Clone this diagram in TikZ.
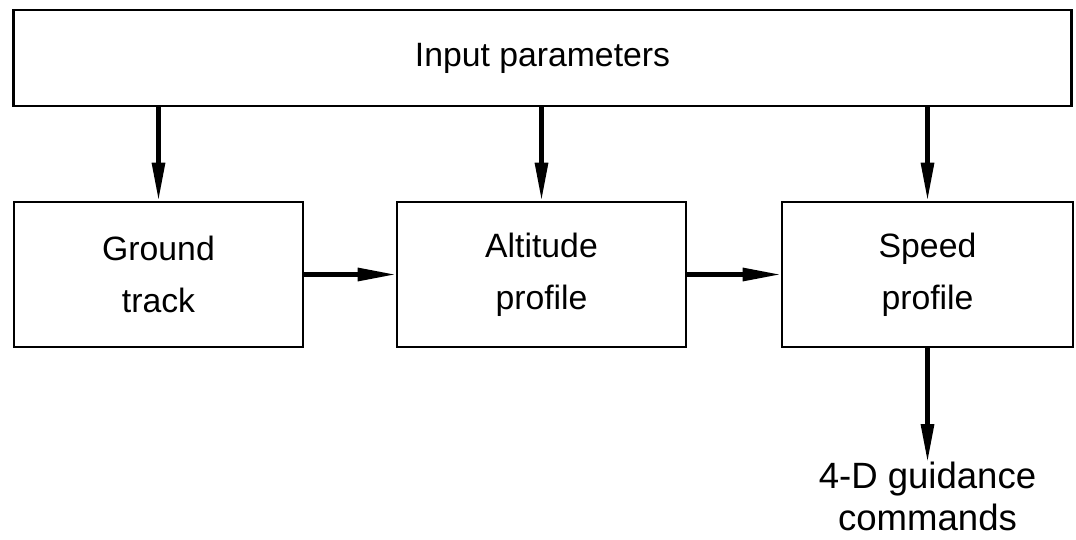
\documentclass[tikz,border=0pt]{standalone}
\usepackage{fontspec}
\setmainfont{Liberation Sans}
\usetikzlibrary{positioning,arrows.meta}

\begin{document}
\begin{tikzpicture}[x=0.025cm,y=-0.025cm,>={Triangle[length=27pt,width=9pt]},
  block/.style={draw,line width=2pt,inner sep=0pt,align=center,
    minimum width=7.225cm,minimum height=3.625cm,font=\fontsize{24}{37}\selectfont},
  label/.style={align=center,inner sep=0pt,font=\fontsize{26}{30}\selectfont}]

    \useasboundingbox (0,0) rectangle (1076,539);

    % The blocks
	\node [block,minimum width=26.425cm,minimum height=2.4cm] at (542.5,58) (inp) {Input parameters};
	\node [block] at (158.5,274.5) (G) {Ground\\track};
	\node [block] at (541.5,274.5) (A) {Altitude\\profile};
	\node [block,minimum width=7.275cm] at (927.5,274.5) (S) {Speed\\profile};

	\node [label,anchor=north] at (927.5,462) (out) {4-D guidance\\commands};

	% Block edges
	\path[->,line width=3pt]
	(inp.south -| G) edge (G)
	(inp.south -| A) edge (A)
	(inp.south -| S) edge (S);

	\path[->,line width=3pt]
	(G) edge (A)
	(A) edge (S)
	(S) edge (out.north);

\end{tikzpicture}
\end{document}
